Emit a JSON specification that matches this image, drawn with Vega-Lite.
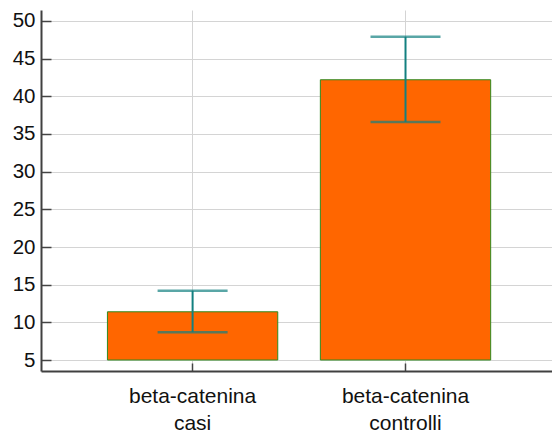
{
  "$schema": "https://vega.github.io/schema/vega-lite/v6.json",
  "width": 511,
  "height": 361,
  "autosize": "none",
  "padding": {"left": 41, "top": 10, "right": 0, "bottom": 62},
  "background": "white",
  "config": {"view": {"stroke": null}, "font": "Liberation Sans"},
  "data": {"values": [
    {"group": "beta-catenina casi", "mean": 11.4, "lo": 8.7, "hi": 14.2},
    {"group": "beta-catenina controlli", "mean": 42.2, "lo": 36.6, "hi": 47.9}
  ]},
  "encoding": {
    "x": {"field": "group", "type": "nominal", "sort": null,
      "scale": {"paddingInner": 0.2, "paddingOuter": 0.3, "align": 0.52},
      "axis": {"title": null, "labelAngle": 0, "labelExpr": "split(datum.label, ' ')",
        "labelFont": "Liberation Sans", "labelFontSize": 21, "labelColor": "#111", "labelLineHeight": 27,
        "labelPadding": 22, "tickSize": -8, "tickColor": "#444", "tickWidth": 1.5,
        "domainColor": "#404040", "domainWidth": 2, "grid": true, "gridColor": "#d4d4d4", "gridWidth": 1}}
  },
  "layer": [
    {"mark": {"type": "bar", "color": "#FF6600", "stroke": "#2f8a1f", "strokeWidth": 1},
     "encoding": {
       "y": {"field": "mean", "type": "quantitative",
         "scale": {"domain": [3.54, 51.46], "nice": false, "zero": false},
         "axis": {"title": null, "values": [5,10,15,20,25,30,35,40,45,50],
           "labelFont": "Liberation Sans", "labelFontSize": 20.5, "labelColor": "#111",
           "labelPadding": 16, "tickSize": -10, "tickColor": "#444", "tickWidth": 1.5,
           "domainColor": "#404040", "domainWidth": 2, "grid": true, "gridColor": "#d4d4d4", "gridWidth": 1}},
       "y2": {"datum": 5}
     }},
    {"mark": {"type": "rule", "color": "#138080", "strokeWidth": 2},
     "encoding": {"y": {"field": "lo", "type": "quantitative"}, "y2": {"field": "hi"}}},
    {"mark": {"type": "tick", "color": "#138080", "thickness": 2.5, "size": 70, "orient": "horizontal"},
     "encoding": {"y": {"field": "lo", "type": "quantitative"}}},
    {"mark": {"type": "tick", "color": "#138080", "thickness": 2.5, "size": 70, "orient": "horizontal"},
     "encoding": {"y": {"field": "hi", "type": "quantitative"}}}
  ]
}
